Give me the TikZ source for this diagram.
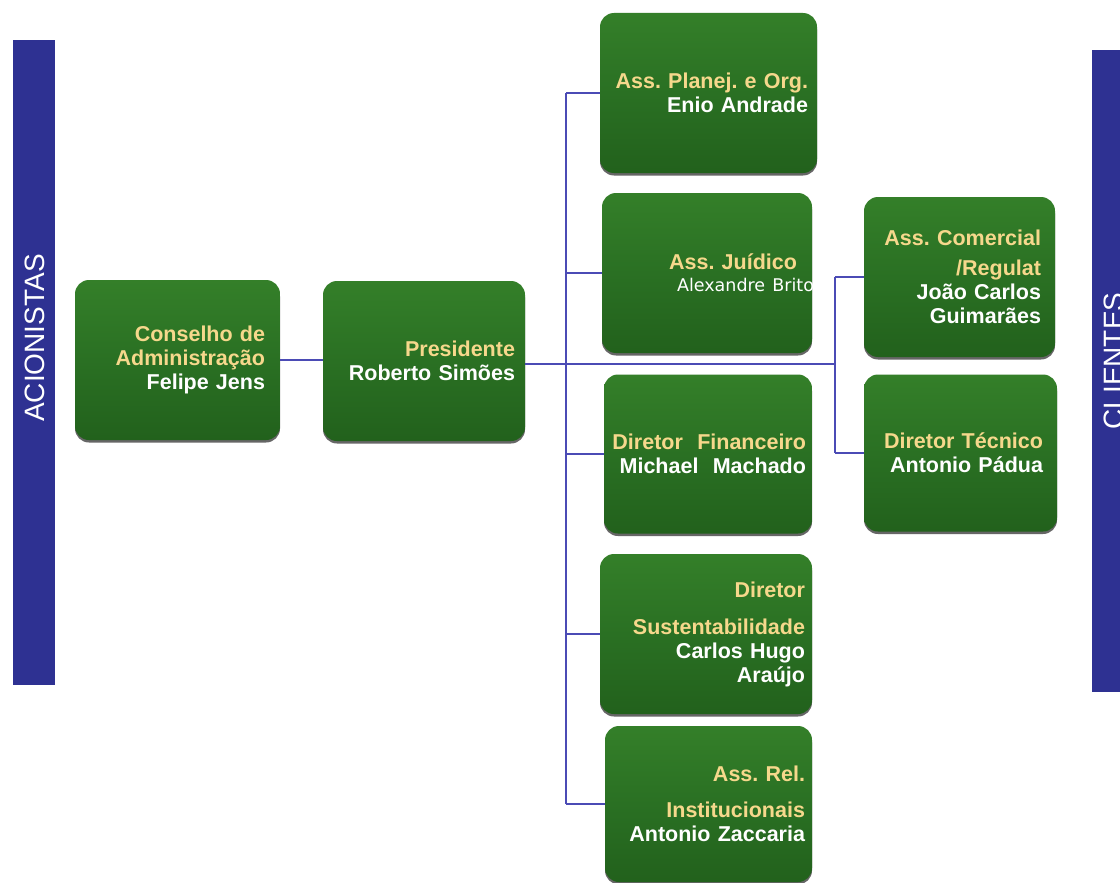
\documentclass[tikz,border=0pt]{standalone}
\usepackage{fontspec}
\setmainfont{Liberation Sans}
\newfontfamily\namefont{DejaVu Sans}
\usetikzlibrary{shadows}
\frenchspacing

\definecolor{barblue}{HTML}{2E3192}
\definecolor{linkblue}{HTML}{4B4BB5}
\definecolor{titley}{HTML}{F6D88C}
\definecolor{greentop}{HTML}{347F29}
\definecolor{greenmid}{HTML}{2A7023}
\definecolor{greenbot}{HTML}{22611C}

\newcommand\hdr[1]{\textcolor{titley}{#1}}

\tikzset{
  orgbox/.style={rounded corners=14pt, top color=greentop, bottom color=greenbot,
    middle color=greenmid, draw=none, align=right, text=white,
    font=\fontsize{21.5}{24}\selectfont\bfseries,
    drop shadow={shadow xshift=0pt, shadow yshift=-2.5pt, fill=black!80, opacity=0.75}},
  sidebar/.style={fill=barblue, draw=none},
  sidetext/.style={text=white, rotate=90, font=\fontsize{28}{30}\selectfont},
  link/.style={draw=linkblue, line width=1.6pt}
}

\begin{document}
\begin{tikzpicture}[x=1pt, y=-1pt]
  \useasboundingbox (0,0) rectangle (1120,883);
  \fill[white] (0,0) rectangle (1120,883);

  % side bars
  \path[sidebar] (13,40) rectangle (55,685);
  \node[sidetext] (acion) at (35,338) {ACIONISTAS};
  \begin{scope}
    \clip (1092,50) rectangle (1120,692);
    \path[sidebar] (1092,50) rectangle (1130,692);
    \node[sidetext] (clien) at (1114,361) {CLIENTES};
  \end{scope}

  % connection points
  \coordinate (trunk) at (566,0);
  \coordinate (joinR) at (835,364);

  % boxes
  \node[orgbox, minimum height=160pt, inner xsep=15pt, text width=175pt] (cons) at (177.5,360)
    {\hdr{Conselho de}\\\hdr{Administração}\\Felipe Jens};
  \node[orgbox, minimum height=160pt, inner xsep=10pt, text width=182pt] (pres) at (424,361)
    {\hdr{Presidente}\\Roberto Simões};
  \node[orgbox, minimum height=160pt, inner xsep=9pt, text width=199pt] (plan) at (708.5,93)
    {\hdr{Ass. Planej. e Org.}\\Enio Andrade};
  \node[orgbox, minimum height=160pt, inner xsep=15pt, text width=180pt] (jur) at (707,273)
    {\hdr{Ass. Juídico}\\[-2pt]{\namefont\mdseries\fontsize{17.5}{20}\selectfont Alexandre Brito}\hspace*{-17pt}};
  \node[orgbox, minimum height=159pt, inner xsep=6pt, text width=196pt] (fin) at (708,454)
    {\hdr{Diretor~~Financeiro}\\Michael~~Machado};
  \node[orgbox, minimum height=160pt, inner xsep=7pt, text width=198pt] (sus) at (706,634)
    {\hdr{Diretor}\\[13pt]\hdr{Sustentabilidade}\\Carlos Hugo\hspace*{10pt}\\Araújo};
  \node[orgbox, minimum height=156pt, inner xsep=7pt, text width=193pt] (rel) at (708.5,804)
    {\hdr{Ass. Rel.}\\[12pt]\hdr{Institucionais}\\Antonio Zaccaria};
  \node[orgbox, minimum height=160pt, inner xsep=14pt, text width=163pt] (com) at (959.5,277)
    {\hdr{Ass. Comercial}\\[6pt]\hdr{/Regulat}\hspace*{4pt}\\João Carlos\\Guimarães};
  \node[orgbox, minimum height=157pt, inner xsep=14pt, text width=165pt] (tec) at (960.5,453)
    {\hdr{Diretor Técnico}\\Antonio Pádua};

  % connectors
  \draw[link] (cons.east) -- (cons.east -| pres.west);
  \draw[link] (pres.east |- joinR) -- (joinR);
  \draw[link] (plan.west -| trunk) -- (rel.west -| trunk);
  \foreach \b in {plan, jur, fin, sus, rel}
    \draw[link] (\b.west -| trunk) -- (\b.west);
  \draw[link] (com.west -| joinR) -- (tec.west -| joinR);
  \draw[link] (com.west -| joinR) -- (com.west);
  \draw[link] (tec.west -| joinR) -- (tec.west);
\end{tikzpicture}
\end{document}
